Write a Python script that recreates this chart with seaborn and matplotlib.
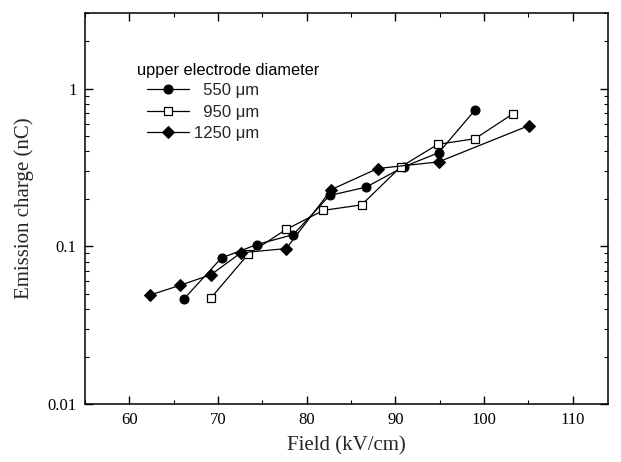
import matplotlib
matplotlib.use("Agg")
import matplotlib.pyplot as plt
import matplotlib.ticker as mticker
import seaborn as sns
import pandas as pd

# Data
field_550 = [66.2, 70.4, 74.4, 78.5, 82.6, 86.7, 91.0, 94.9, 99.0]
charge_550 = [0.0466, 0.0844, 0.1026, 0.1186, 0.210, 0.237, 0.320, 0.392, 0.731]

field_950 = [69.2, 73.4, 77.7, 81.9, 86.2, 90.6, 94.8, 99.0, 103.3]
charge_950 = [0.047, 0.089, 0.128, 0.169, 0.183, 0.318, 0.443, 0.481, 0.693]

field_1250 = [62.3, 65.7, 69.2, 72.6, 77.7, 82.8, 88.0, 94.9, 105.1]
charge_1250 = [0.049, 0.0565, 0.066, 0.091, 0.0967, 0.229, 0.311, 0.343, 0.583]

series_labels = ["  550 \u03bcm", "  950 \u03bcm", "1250 \u03bcm"]
legend_title = "upper electrode diameter"
x_ticks = [60, 70, 80, 90, 100, 110]
y_ticks = [0.01, 0.1, 1]
y_tick_labels = ["0.01", "0.1", "1"]
x_label = "Field (kV/cm)"
y_label = "Emission charge (nC)"

sns.set_style("ticks")
plt.rcParams["font.family"] = ["Liberation Serif", "DejaVu Serif"]

W, H = 621, 462
fig = plt.figure(figsize=(W / 100, H / 100), dpi=100)
ax = fig.add_axes([85 / W, 1 - 404 / H, (608 - 85) / W, (404 - 13.3) / H])

styles = [
    dict(marker="o", markerfacecolor="black", markeredgecolor="black", markersize=6.5),
    dict(marker="s", markerfacecolor="white", markeredgecolor="black", markersize=6, markeredgewidth=0.9),
    dict(marker="D", markerfacecolor="black", markeredgecolor="black", markersize=6),
]
datasets = [(field_550, charge_550), (field_950, charge_950), (field_1250, charge_1250)]

for (xs, ys), lab, st in zip(datasets, series_labels, styles):
    df = pd.DataFrame({"x": xs, "y": ys})
    sns.lineplot(data=df, x="x", y="y", ax=ax, color="black", linewidth=0.9,
                 sort=False, label=lab, **st)

ax.set_yscale("log")
ax.set_xlim(55, 114)
ax.set_ylim(0.01, 3.0)

ax.set_xticks(x_ticks)
ax.xaxis.set_minor_locator(mticker.MultipleLocator(5))
ax.set_yticks(y_ticks)
ax.set_yticklabels(y_tick_labels)
ax.yaxis.set_minor_locator(mticker.LogLocator(base=10, subs=range(2, 10)))
ax.yaxis.set_minor_formatter(mticker.NullFormatter())

ax.tick_params(which="both", direction="in", top=True, right=True, colors="black")
ax.tick_params(which="major", length=6, width=1, labelsize=12, pad=6)
ax.tick_params(which="minor", length=3, width=0.8)
for sp in ax.spines.values():
    sp.set_linewidth(1.1)
    sp.set_color("black")

ax.set_xlabel(x_label, fontsize=15, labelpad=6)
ax.set_ylabel(y_label, fontsize=15, labelpad=10)

leg = ax.legend(loc="upper left", bbox_to_anchor=(147 / W, 1 - 83 / H),
                bbox_transform=fig.transFigure,
                frameon=False, handlelength=2.5, handletextpad=0.3,
                labelspacing=0.4, borderaxespad=0, borderpad=0,
                prop={"family": "Liberation Sans", "size": 12})
fig.text(137 / W, 1 - 70 / H, legend_title, ha="left", va="center",
         family="Liberation Sans", fontsize=11.8, color="black")

fig.savefig("out.png", dpi=100)
